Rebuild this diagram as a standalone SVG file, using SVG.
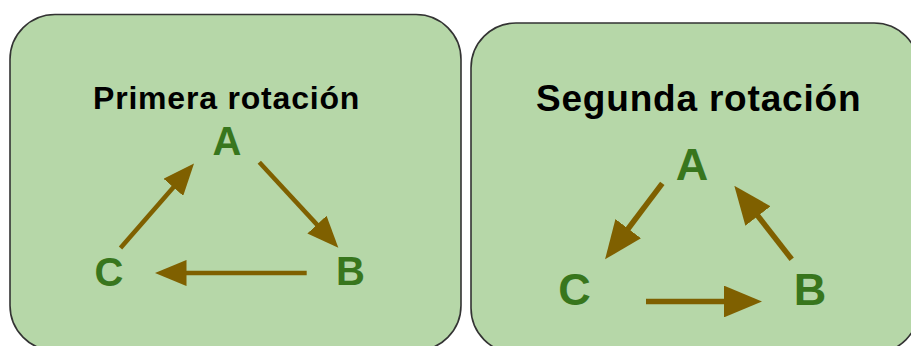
<svg xmlns="http://www.w3.org/2000/svg" width="911" height="346" viewBox="0 0 911 346">
<style>
.box{fill:#b6d7a8;stroke:#333333;stroke-width:1.6}
.title{font-family:"Liberation Sans",Arial,sans-serif;font-weight:bold;fill:#000000}
.lbl{font-family:"Liberation Sans",Arial,sans-serif;font-weight:bold;fill:#38761d;text-anchor:middle}
.arr{stroke:#7f6000;fill:none;marker-end:url(#head)}
</style>
<defs>
<marker id="head" markerUnits="strokeWidth" markerWidth="7" markerHeight="5.8" refX="1" refY="2.9" orient="auto" viewBox="0 0 7 5.8">
<path d="M0,0 L7,2.9 L0,5.8 z" fill="#7f6000"/>
</marker>
</defs>
<rect width="911" height="346" fill="#ffffff"/>
<g id="panel1">
<rect class="box" x="10" y="14.5" width="451" height="336" rx="45" ry="45"/>
<text class="title" x="93" y="109" font-size="32" letter-spacing="0.8">Primera rotación</text>
</g>
<g id="panel2">
<rect class="box" x="471" y="23" width="448" height="330" rx="45" ry="45"/>
<text class="title" x="536" y="111" font-size="37" letter-spacing="0.8">Segunda rotación</text>
</g>
<g id="p1A"><text class="lbl" x="227" y="155" font-size="40">A</text></g>
<g id="p1B"><text class="lbl" x="350.5" y="285" font-size="40">B</text></g>
<g id="p1C"><text class="lbl" x="109" y="286" font-size="40">C</text></g>
<g id="p2A"><text class="lbl" x="692" y="180" font-size="45">A</text></g>
<g id="p2B"><text class="lbl" x="810" y="305" font-size="45">B</text></g>
<g id="p2C"><text class="lbl" x="574.5" y="305" font-size="45">C</text></g>
<g id="connectors">
<line class="arr" stroke-width="4.5" x1="120.5" y1="248" x2="176.3" y2="183.9"/>
<line class="arr" stroke-width="4.5" x1="259.3" y1="162.3" x2="320" y2="227.9"/>
<line class="arr" stroke-width="4.5" x1="306.7" y1="273" x2="182" y2="273"/>
<line class="arr" stroke-width="5.5" x1="662.3" y1="183.3" x2="624.9" y2="233"/>
<line class="arr" stroke-width="5.5" x1="791.7" y1="259.3" x2="754.6" y2="211.7"/>
<line class="arr" stroke-width="5.5" x1="646" y1="301.5" x2="729.3" y2="301.5"/>
</g>
</svg>
